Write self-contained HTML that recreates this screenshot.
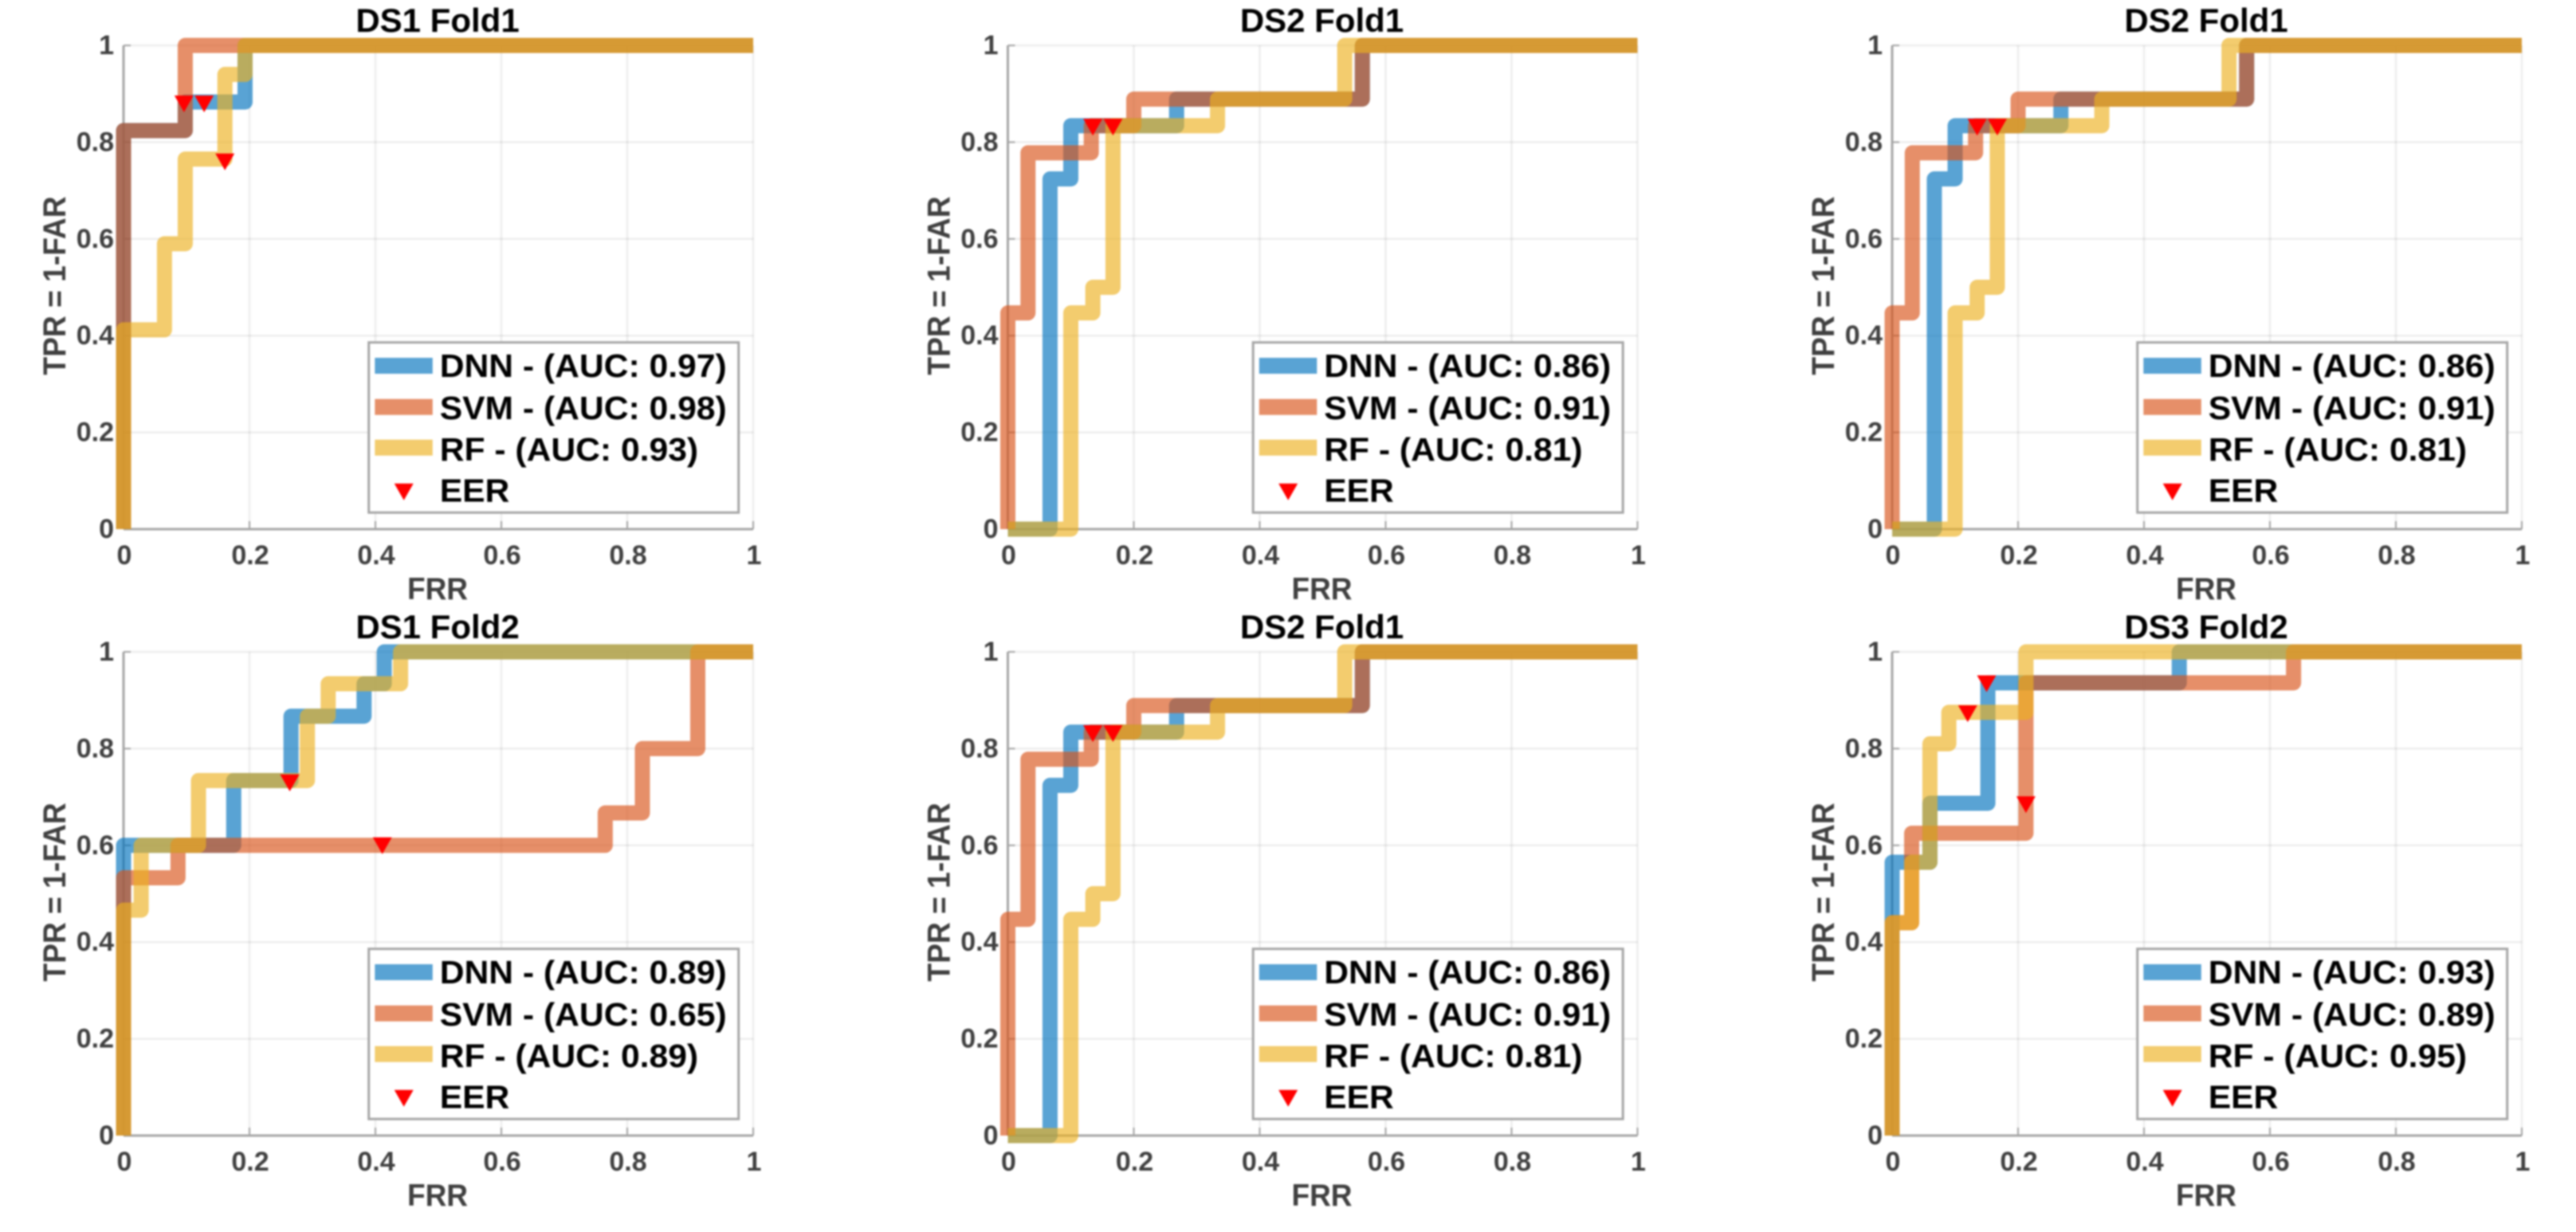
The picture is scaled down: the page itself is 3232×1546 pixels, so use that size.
<!DOCTYPE html>
<html lang="en">
<head>
<meta charset="utf-8">
<title>ROC curves per dataset and fold</title>
<style>
html,body{margin:0;padding:0;background:#fff;}
body{width:3232px;height:1546px;overflow:hidden;}
svg{display:block;filter:blur(1px);font-family:"Liberation Sans",sans-serif;font-weight:bold;}
</style>
</head>
<body>
<svg id="chart" xmlns="http://www.w3.org/2000/svg" width="3232" height="1546" viewBox="0 0 3232 1546">
<rect x="0" y="0" width="3232" height="1546" fill="#ffffff"/>
</svg>
<script>
const tickValues = [0, 0.2, 0.4, 0.6, 0.8, 1];
const tickLabels = ['0', '0.2', '0.4', '0.6', '0.8', '1'];
const seriesNames = ['DNN', 'SVM', 'RF'];

const ds1f1DnnX = [0, 0, 0.098, 0.098, 0.193, 0.193, 1];
const ds1f1DnnY = [0, 0.824, 0.824, 0.883, 0.883, 1, 1];
const ds1f1SvmX = [0, 0, 0.098, 0.098, 1];
const ds1f1SvmY = [0, 0.824, 0.824, 1, 1];
const ds1f1RfX = [0, 0, 0.065, 0.065, 0.098, 0.098, 0.161, 0.161, 0.193, 0.193, 1];
const ds1f1RfY = [0, 0.412, 0.412, 0.59, 0.59, 0.765, 0.765, 0.94, 0.94, 1, 1];
const ds1f1EerX = [0.096, 0.128, 0.161];
const ds1f1EerY = [0.88, 0.88, 0.76];
const ds1f1Auc = ['0.97', '0.98', '0.93'];

const ds2f1DnnX = [0, 0.067, 0.067, 0.1, 0.1, 0.268, 0.268, 0.563, 0.563, 1];
const ds2f1DnnY = [0, 0, 0.724, 0.724, 0.834, 0.834, 0.889, 0.889, 1, 1];
const ds2f1SvmX = [0, 0, 0.032, 0.032, 0.1325, 0.1325, 0.2, 0.2, 0.563, 0.563, 1];
const ds2f1SvmY = [0, 0.447, 0.447, 0.778, 0.778, 0.834, 0.834, 0.889, 0.889, 1, 1];
const ds2f1RfX = [0, 0.1, 0.1, 0.135, 0.135, 0.167, 0.167, 0.333, 0.333, 0.535, 0.535, 1];
const ds2f1RfY = [0, 0, 0.447, 0.447, 0.5, 0.5, 0.834, 0.834, 0.889, 0.889, 1, 1];
const ds2f1EerX = [0.135, 0.135, 0.167];
const ds2f1EerY = [0.832, 0.832, 0.832];
const ds2f1Auc = ['0.86', '0.91', '0.81'];

const ds1f2DnnX = [0, 0, 0.175, 0.175, 0.266, 0.266, 0.382, 0.382, 0.414, 0.414, 1];
const ds1f2DnnY = [0, 0.6, 0.6, 0.734, 0.734, 0.867, 0.867, 0.934, 0.934, 1, 1];
const ds1f2SvmX = [0, 0, 0.0865, 0.0865, 0.765, 0.765, 0.824, 0.824, 0.912, 0.912, 1];
const ds1f2SvmY = [0, 0.533, 0.533, 0.6, 0.6, 0.667, 0.667, 0.8, 0.8, 1, 1];
const ds1f2RfX = [0, 0, 0.028, 0.028, 0.119, 0.119, 0.292, 0.292, 0.325, 0.325, 0.44, 0.44, 1];
const ds1f2RfY = [0, 0.466, 0.466, 0.6, 0.6, 0.734, 0.734, 0.867, 0.867, 0.934, 0.934, 1, 1];
const ds1f2EerX = [0.264, 0.411, 0.264];
const ds1f2EerY = [0.73, 0.6, 0.73];
const ds1f2Auc = ['0.89', '0.65', '0.89'];

const ds3f2DnnX = [0, 0, 0.06, 0.06, 0.152, 0.152, 0.456, 0.456, 1];
const ds3f2DnnY = [0, 0.565, 0.565, 0.687, 0.687, 0.936, 0.936, 1, 1];
const ds3f2SvmX = [0, 0, 0.031, 0.031, 0.2125, 0.2125, 0.6375, 0.6375, 1];
const ds3f2SvmY = [0, 0.44, 0.44, 0.625, 0.625, 0.936, 0.936, 1, 1];
const ds3f2RfX = [0, 0, 0.031, 0.031, 0.06, 0.06, 0.09, 0.09, 0.2125, 0.2125, 1];
const ds3f2RfY = [0, 0.44, 0.44, 0.565, 0.565, 0.81, 0.81, 0.875, 0.875, 1, 1];
const ds3f2EerX = [0.15, 0.12, 0.2125];
const ds3f2EerY = [0.935, 0.873, 0.685];
const ds3f2Auc = ['0.93', '0.89', '0.95'];

const colors = ['rgb(0,114,189)', 'rgb(217,83,25)', 'rgb(237,177,32)'];
const NS = 'http://www.w3.org/2000/svg';
const svg = document.getElementById('chart');

function make(parent, tag, attrs, text) {
  const el = document.createElementNS(NS, tag);
  for (const k in attrs) el.setAttribute(k, attrs[k]);
  if (text !== undefined) el.textContent = text;
  parent.appendChild(el);
  return el;
}

function drawPanel(title, left, top, bottom, slug, xs, ys, eerX, eerY, auc) {
  const width = 790;
  const sx = v => left + v * width;
  const sy = v => bottom - v * (bottom - top);

  const g = make(svg, 'g', {});
  
  

  tickValues.forEach((v, i) => {
    if (i > 0) {
      const gx = make(g, 'line', {x1: sx(v), x2: sx(v), y1: top, y2: bottom, stroke: '#000', 'stroke-opacity': 0.07, 'stroke-width': 2.5});
      
      
      const gy = make(g, 'line', {x1: left, x2: left + width, y1: sy(v), y2: sy(v), stroke: '#000', 'stroke-opacity': 0.07, 'stroke-width': 2.5});
      
      
    }
  });

  const xAxis = make(g, 'line', {x1: left, x2: left + width, y1: bottom, y2: bottom, stroke: '#a6a6a6', 'stroke-width': 3});
  
  
  const yAxis = make(g, 'line', {x1: left, x2: left, y1: top, y2: bottom, stroke: '#a6a6a6', 'stroke-width': 3});
  
  

  tickValues.forEach((v, i) => {
    const tx = make(g, 'line', {x1: sx(v), x2: sx(v), y1: bottom, y2: bottom - 10, stroke: '#a6a6a6', 'stroke-width': 2});
    
    
    const ty = make(g, 'line', {x1: left, x2: left + 9, y1: sy(v), y2: sy(v), stroke: '#a6a6a6', 'stroke-width': 2});
    
    
    const lx = make(g, 'text', {x: sx(v) + 1, y: bottom + 44, 'text-anchor': 'middle', 'font-size': 34, fill: '#404040'}, tickLabels[i]);
    
    
    const ly = make(g, 'text', {x: left - 12, y: sy(v) + 11, 'text-anchor': 'end', 'font-size': 34, fill: '#404040'}, tickLabels[i]);
    
    
  });

  xs.forEach((seriesX, s) => {
    const pts = seriesX.map((x, i) => sx(x) + ',' + sy(ys[s][i])).join(' ');
    const line = make(g, 'polyline', {points: pts, fill: 'none', stroke: colors[s], 'stroke-opacity': 0.65, 'stroke-width': 19, 'stroke-linejoin': 'round', 'stroke-linecap': 'butt'});
    
    
  });

  eerX.forEach((x, i) => {
    const cx = sx(x), cy = sy(eerY[i]);
    const m = make(g, 'polygon', {points: (cx - 12) + ',' + (cy - 10) + ' ' + (cx + 12) + ',' + (cy - 10) + ' ' + cx + ',' + (cy + 11), fill: '#ff0000'});
    
    
  });

  const t = make(g, 'text', {x: left + width / 2 - 1, y: top - 17, 'text-anchor': 'middle', 'font-size': 42, fill: '#000'}, title);
  
  
  const xl = make(g, 'text', {transform: 'translate(' + (left + width / 2 - 1) + ',' + (bottom + 88) + ') scale(0.95,1)', 'text-anchor': 'middle', 'font-size': 39, fill: '#404040'}, 'FRR');
  
  
  const midY = (top + bottom) / 2 - 2;
  const yl = make(g, 'text', {transform: 'translate(' + (left - 73) + ',' + midY + ') rotate(-90) scale(0.93,1)', 'text-anchor': 'middle', 'font-size': 40, fill: '#404040'}, 'TPR = 1-FAR');
  
  

  const legLeft = left + 307.7, legTop = bottom - 234.3;
  const leg = make(g, 'g', {});
  
  
  const box = make(leg, 'rect', {x: legLeft, y: legTop, width: 464, height: 213.5, fill: '#fff', stroke: '#a6a6a6', 'stroke-width': 3});
  
  
  const rowSwatch = [29.3, 81, 132];
  const rowText = [43.5, 96.5, 148.5];
  seriesNames.forEach((name, s) => {
    const sw = make(leg, 'rect', {x: legLeft + 7.6, y: legTop + rowSwatch[s] - 10, width: 72.5, height: 20, fill: colors[s], 'fill-opacity': 0.65});
    
    
    const lt = make(leg, 'text', {transform: 'translate(' + (legLeft + 89) + ',' + (legTop + rowText[s]) + ') scale(1.04,1)', 'font-size': 41, fill: '#000'}, name + ' - (AUC: ' + auc[s] + ')');
    
    
  });
  const mx = legLeft + 44, my = legTop + 187;
  const lm = make(leg, 'polygon', {points: (mx - 12) + ',' + (my - 10) + ' ' + (mx + 12) + ',' + (my - 10) + ' ' + mx + ',' + (my + 11), fill: '#ff0000'});
  
  
  const le = make(leg, 'text', {transform: 'translate(' + (legLeft + 89) + ',' + (legTop + 200) + ') scale(1.04,1)', 'font-size': 41, fill: '#000'}, 'EER');
  
  
}

drawPanel('DS1 Fold1', 155, 57, 664, 'ds1-fold1',
  [ds1f1DnnX, ds1f1SvmX, ds1f1RfX], [ds1f1DnnY, ds1f1SvmY, ds1f1RfY], ds1f1EerX, ds1f1EerY, ds1f1Auc);
drawPanel('DS2 Fold1', 1264.5, 57, 664, 'ds2-fold1-top-middle',
  [ds2f1DnnX, ds2f1SvmX, ds2f1RfX], [ds2f1DnnY, ds2f1SvmY, ds2f1RfY], ds2f1EerX, ds2f1EerY, ds2f1Auc);
drawPanel('DS2 Fold1', 2374, 57, 664, 'ds2-fold1-top-right',
  [ds2f1DnnX, ds2f1SvmX, ds2f1RfX], [ds2f1DnnY, ds2f1SvmY, ds2f1RfY], ds2f1EerX, ds2f1EerY, ds2f1Auc);
drawPanel('DS1 Fold2', 155, 818, 1425, 'ds1-fold2',
  [ds1f2DnnX, ds1f2SvmX, ds1f2RfX], [ds1f2DnnY, ds1f2SvmY, ds1f2RfY], ds1f2EerX, ds1f2EerY, ds1f2Auc);
drawPanel('DS2 Fold1', 1264.5, 818, 1425, 'ds2-fold1-bottom-middle',
  [ds2f1DnnX, ds2f1SvmX, ds2f1RfX], [ds2f1DnnY, ds2f1SvmY, ds2f1RfY], ds2f1EerX, ds2f1EerY, ds2f1Auc);
drawPanel('DS3 Fold2', 2374, 818, 1425, 'ds3-fold2',
  [ds3f2DnnX, ds3f2SvmX, ds3f2RfX], [ds3f2DnnY, ds3f2SvmY, ds3f2RfY], ds3f2EerX, ds3f2EerY, ds3f2Auc);
</script>
</body>
</html>
